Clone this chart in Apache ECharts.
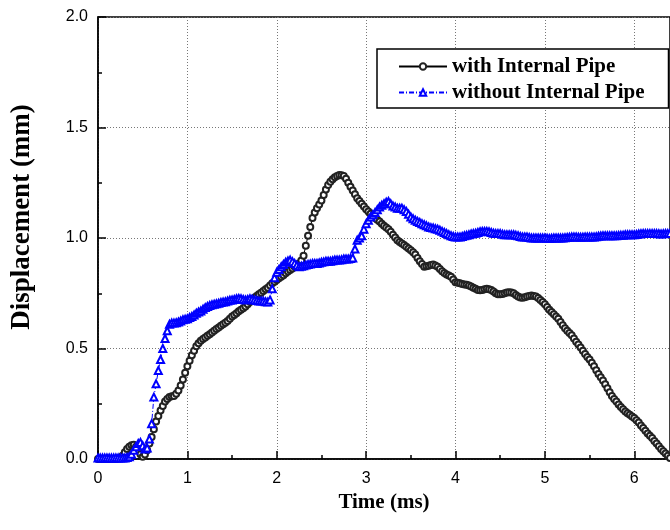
<!DOCTYPE html>
<html><head><meta charset="utf-8">
<script src="https://cdn.jsdelivr.net/npm/echarts@6/dist/echarts.min.js"></script>
<style>html,body{margin:0;padding:0;background:#fff}#c{width:670px;height:530px}</style>
</head><body><div id="c"></div>
<script>
// sample times (ms), shared by both curves
const timeMs = [
0,0.025,0.05,0.075,0.1,0.125,0.15,0.175,0.2,0.225,
0.25,0.275,0.3,0.325,0.35,0.375,0.4,0.425,0.45,0.475,
0.5,0.525,0.55,0.575,0.6,0.625,0.65,0.675,0.7,0.725,
0.75,0.775,0.8,0.825,0.85,0.875,0.9,0.925,0.95,0.975,
1,1.025,1.05,1.075,1.1,1.125,1.15,1.175,1.2,1.225,
1.25,1.275,1.3,1.325,1.35,1.375,1.4,1.425,1.45,1.475,
1.5,1.525,1.55,1.575,1.6,1.625,1.65,1.675,1.7,1.725,
1.75,1.775,1.8,1.825,1.85,1.875,1.9,1.925,1.95,1.975,
2,2.025,2.05,2.075,2.1,2.125,2.15,2.175,2.2,2.225,
2.25,2.275,2.3,2.325,2.35,2.375,2.4,2.425,2.45,2.475,
2.5,2.525,2.55,2.575,2.6,2.625,2.65,2.675,2.7,2.725,
2.75,2.775,2.8,2.825,2.85,2.875,2.9,2.925,2.95,2.975,
3,3.025,3.05,3.075,3.1,3.125,3.15,3.175,3.2,3.225,
3.25,3.275,3.3,3.325,3.35,3.375,3.4,3.425,3.45,3.475,
3.5,3.525,3.55,3.575,3.6,3.625,3.65,3.675,3.7,3.725,
3.75,3.775,3.8,3.825,3.85,3.875,3.9,3.925,3.95,3.975,
4,4.025,4.05,4.075,4.1,4.125,4.15,4.175,4.2,4.225,
4.25,4.275,4.3,4.325,4.35,4.375,4.4,4.425,4.45,4.475,
4.5,4.525,4.55,4.575,4.6,4.625,4.65,4.675,4.7,4.725,
4.75,4.775,4.8,4.825,4.85,4.875,4.9,4.925,4.95,4.975,
5,5.025,5.05,5.075,5.1,5.125,5.15,5.175,5.2,5.225,
5.25,5.275,5.3,5.325,5.35,5.375,5.4,5.425,5.45,5.475,
5.5,5.525,5.55,5.575,5.6,5.625,5.65,5.675,5.7,5.725,
5.75,5.775,5.8,5.825,5.85,5.875,5.9,5.925,5.95,5.975,
6,6.025,6.05,6.075,6.1,6.125,6.15,6.175,6.2,6.225,
6.25,6.275,6.3,6.325,6.35,6.375,6.4];

// "with Internal Pipe" displacement (mm)
const dispWith = [
0,0,0,0,0,0,0,0,0,0.002,
0.005,0.015,0.03,0.045,0.055,0.062,0.065,0.055,0.04,0.022,
0.01,0.02,0.04,0.07,0.10,0.135,0.17,0.195,0.22,0.24,
0.26,0.272,0.28,0.284,0.285,0.295,0.31,0.333,0.36,0.39,
0.42,0.445,0.47,0.49,0.51,0.524,0.535,0.543,0.55,0.558,
0.565,0.572,0.58,0.588,0.595,0.603,0.61,0.617,0.625,0.635,
0.645,0.652,0.66,0.668,0.675,0.682,0.69,0.70,0.71,0.72,
0.73,0.738,0.745,0.752,0.76,0.768,0.775,0.785,0.795,0.802,
0.81,0.818,0.825,0.832,0.84,0.848,0.855,0.862,0.87,0.877,
0.885,0.898,0.92,0.965,1.01,1.05,1.09,1.115,1.135,1.152,
1.17,1.195,1.22,1.24,1.255,1.266,1.275,1.281,1.285,1.284,
1.28,1.268,1.25,1.232,1.215,1.198,1.18,1.167,1.155,1.142,
1.13,1.12,1.11,1.10,1.09,1.083,1.075,1.065,1.055,1.048,
1.04,1.028,1.015,1.002,0.99,0.982,0.975,0.968,0.96,0.952,
0.945,0.935,0.925,0.91,0.895,0.882,0.87,0.872,0.875,0.878,
0.88,0.876,0.87,0.86,0.85,0.842,0.835,0.83,0.825,0.812,
0.80,0.797,0.795,0.792,0.79,0.788,0.785,0.78,0.775,0.77,
0.765,0.764,0.765,0.768,0.77,0.768,0.765,0.758,0.75,0.746,
0.745,0.747,0.75,0.753,0.755,0.753,0.75,0.742,0.735,0.731,
0.73,0.732,0.735,0.738,0.74,0.738,0.735,0.728,0.72,0.71,
0.70,0.688,0.675,0.665,0.655,0.645,0.635,0.62,0.605,0.592,
0.58,0.57,0.56,0.545,0.53,0.518,0.505,0.49,0.475,0.462,
0.45,0.435,0.42,0.402,0.385,0.37,0.355,0.338,0.32,0.302,
0.285,0.272,0.26,0.247,0.235,0.225,0.215,0.207,0.20,0.192,
0.185,0.175,0.165,0.152,0.14,0.128,0.115,0.105,0.095,0.082,
0.07,0.058,0.045,0.035,0.025,0.015,0.005];

// "without Internal Pipe" displacement (mm)
const dispWithout = [
0.005,0.005,0.005,0.005,0.005,0.005,0.005,0.005,0.005,0.005,
0.005,0.005,0.005,0.007,0.01,0.022,0.04,0.055,0.07,0.075,
0.06,0.045,0.05,0.09,0.16,0.28,0.34,0.40,0.45,0.50,
0.545,0.58,0.61,0.615,0.615,0.617,0.62,0.625,0.63,0.632,
0.635,0.64,0.645,0.652,0.66,0.665,0.67,0.678,0.685,0.69,
0.695,0.698,0.70,0.703,0.705,0.708,0.71,0.712,0.715,0.718,
0.72,0.722,0.725,0.726,0.725,0.722,0.72,0.722,0.725,0.723,
0.72,0.717,0.715,0.715,0.715,0.712,0.71,0.72,0.77,0.82,
0.845,0.858,0.87,0.88,0.89,0.896,0.90,0.893,0.885,0.877,
0.87,0.872,0.875,0.878,0.88,0.882,0.885,0.885,0.885,0.887,
0.89,0.892,0.895,0.895,0.895,0.897,0.90,0.90,0.90,0.902,
0.905,0.905,0.905,0.907,0.91,0.95,0.99,1.00,1.01,1.04,
1.065,1.08,1.095,1.105,1.115,1.128,1.14,1.148,1.155,1.162,
1.165,1.155,1.145,1.14,1.135,1.135,1.135,1.128,1.12,1.108,
1.095,1.087,1.08,1.075,1.07,1.065,1.06,1.055,1.05,1.047,
1.045,1.042,1.04,1.035,1.03,1.025,1.02,1.015,1.01,1.007,
1.005,1.005,1.005,1.007,1.01,1.012,1.015,1.018,1.02,1.022,
1.025,1.028,1.03,1.03,1.03,1.028,1.025,1.022,1.02,1.02,
1.02,1.017,1.015,1.015,1.015,1.015,1.015,1.012,1.01,1.007,
1.005,1.005,1.005,1.002,1.0,1.0,1.0,1.0,1.0,1.0,
1.0,0.999,0.998,0.999,1.0,1.0,1.0,1.0,1.0,1.001,
1.002,1.003,1.005,1.005,1.005,1.004,1.003,1.004,1.005,1.005,
1.005,1.005,1.005,1.006,1.008,1.009,1.01,1.01,1.01,1.01,
1.01,1.01,1.01,1.011,1.012,1.013,1.015,1.015,1.015,1.015,
1.015,1.016,1.018,1.019,1.02,1.02,1.02,1.02,1.02,1.02,
1.02,1.019,1.018,1.019,1.02,1.02,1.02];

const xMajorTicks = [0,1,2,3,4,5,6];
const xMinorTicks = [0.5,1.5,2.5,3.5,4.5,5.5];
const seriesNames = ['with Internal Pipe','without Internal Pipe'];
const xTitle = 'Time (ms)';
const yTitle = 'Displacement (mm)';

function pairs(t, v){ return t.map((x,i)=>[x, v[i]]); }

const chart = echarts.init(document.getElementById('c'), null, {renderer:'canvas'});
const tickFont = {fontFamily:'Liberation Sans', fontSize:16, color:'#000'};
const titleFont = {fontFamily:'Liberation Serif', fontWeight:'bold', fontSize:21, color:'#000'};
const gridDot = {show:true, lineStyle:{color:'#777', width:1, type:[1,2]}};

chart.setOption({
  animation:false,
  backgroundColor:'#fff',
  grid:{left:98, top:17, right:0, bottom:71, show:true, borderColor:'#000', borderWidth:1.5, backgroundColor:'transparent'},
  legend:{
    data:seriesNames, orient:'vertical', left:377, top:49,
    padding:[7,24,5,21], itemGap:5, itemWidth:48, itemHeight:8,
    backgroundColor:'#fff', borderColor:'#000', borderWidth:1.5,
    textStyle:{fontFamily:'Liberation Serif', fontWeight:'bold', fontSize:21, color:'#000'}
  },
  graphic:[{
    type:'text', x:22, y:217, rotation:Math.PI/2, silent:true,
    style:{text:yTitle, x:0, y:0, align:'center', verticalAlign:'middle',
      fontFamily:'Liberation Serif', fontWeight:'bold', fontSize:27, fill:'#000'}
  }],
  xAxis:[{
    type:'value', min:0, max:6.4, interval:1, position:'bottom',
    axisLine:{show:true, lineStyle:{color:'#000', width:1.5}},
    axisTick:{show:true, inside:true, length:8, customValues:xMajorTicks, lineStyle:{color:'#000', width:1.5}},
    axisLabel:{customValues:xMajorTicks, margin:12, ...tickFont},
    splitLine:gridDot,
    name:xTitle, nameLocation:'middle', nameGap:30, nameTextStyle:titleFont
  },{
    type:'value', min:0, max:6.4, interval:0.5, position:'bottom',
    axisLine:{show:false},
    axisTick:{show:true, inside:true, length:4, customValues:xMinorTicks, lineStyle:{color:'#000', width:1.5}},
    axisLabel:{show:false}, splitLine:{show:false}
  }],
  yAxis:{
    type:'value', min:0, max:2, interval:0.5,
    axisLine:{show:true, lineStyle:{color:'#000', width:1.5}},
    axisTick:{show:true, inside:true, length:8, lineStyle:{color:'#000', width:1.5}},
    minorTick:{show:true, splitNumber:2, length:4, lineStyle:{color:'#000', width:1.5}},
    axisLabel:{margin:10, formatter:v=>v.toFixed(1), ...tickFont},
    splitLine:gridDot
  },
  series:[{
    name:seriesNames[0], type:'line', xAxisIndex:0, data:pairs(timeMs, dispWith),
    symbol:'emptyCircle', symbolSize:6, showAllSymbol:true,
    itemStyle:{color:'#222', borderWidth:1},
    lineStyle:{color:'#000', width:1}
  },{
    name:seriesNames[1], type:'line', xAxisIndex:0, data:pairs(timeMs, dispWithout),
    symbol:'emptyTriangle', symbolSize:7, showAllSymbol:true,
    itemStyle:{color:'#0000ff', borderWidth:1},
    lineStyle:{color:'#0000ff', width:1, type:[5,2,1,2]}
  }]
});
</script></body></html>
